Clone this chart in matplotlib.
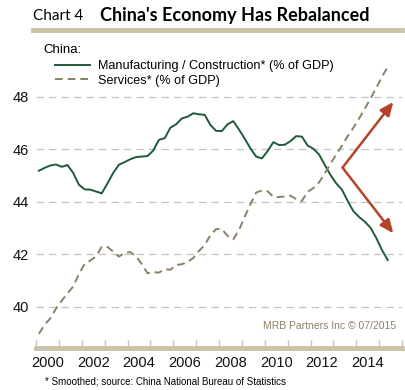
import numpy as np
import matplotlib
matplotlib.use('Agg')
import matplotlib.pyplot as plt

# quarterly, smoothed (% of GDP)
quarters = np.arange(2000.125, 2015.4, 0.25)
manufacturing = [45.18, 45.29, 45.38, 45.42, 45.33, 45.40, 45.10, 44.65,
                 44.47, 44.46, 44.39, 44.32, 44.70, 45.10, 45.41, 45.51,
                 45.62, 45.70, 45.72, 45.74, 45.95, 46.36, 46.42, 46.82,
                 46.95, 47.17, 47.24, 47.37, 47.33, 47.31, 46.92, 46.70,
                 46.69, 46.95, 47.07, 46.75, 46.40, 46.03, 45.72, 45.65,
                 45.93, 46.27, 46.16, 46.17, 46.31, 46.50, 46.48, 46.14,
                 46.02, 45.80, 45.40, 45.02, 44.70, 44.46, 44.03, 43.64,
                 43.42, 43.24, 43.01, 42.62, 42.16, 41.78]
services = [38.97, 39.31, 39.56, 39.93, 40.23, 40.51, 40.77, 41.25,
            41.63, 41.76, 41.92, 42.29, 42.28, 42.10, 41.91, 42.06,
            42.08, 41.92, 41.62, 41.28, 41.32, 41.30, 41.43, 41.41,
            41.59, 41.62, 41.70, 41.86, 42.13, 42.35, 42.73, 42.96,
            42.96, 42.70, 42.57, 42.92, 43.43, 43.91, 44.35, 44.43,
            44.40, 44.18, 44.18, 44.20, 44.23, 44.10, 44.03, 44.38,
            44.52, 44.74, 45.08, 45.45, 45.80, 46.13, 46.50, 46.82,
            47.17, 47.55, 47.93, 48.34, 48.75, 49.14]
year_labels = ['2000', '2002', '2004', '2006', '2008', '2010', '2012', '2014']
y_ticks = [40, 42, 44, 46, 48]

# arrow: start point and two end points (year, % of GDP)
arrow_start = (2013.4, 45.3)
arrow_ends = [(2015.62, 47.8), (2015.62, 42.8)]

green = '#1f5a3a'
tan = '#8c8068'
bar_tan = '#cbc2aa'
red = '#b5432a'

W, H = 406, 390
fig = plt.figure(figsize=(W / 100, H / 100), dpi=100)
ax = fig.add_axes([36 / W, 42 / H, 366 / W, 308 / H])

ax.plot(quarters, manufacturing, color=green, lw=1.4, label='Manufacturing / Construction* (% of GDP)')
ax.plot(quarters, services, color=tan, lw=1.4, ls=(0, (4, 2.5)), label='Services* (% of GDP)')

for end in arrow_ends:
    ax.annotate('', xy=end, xytext=arrow_start,
                arrowprops=dict(arrowstyle='-|>,head_length=0.8,head_width=0.35', color=red, lw=1.8,
                                shrinkA=0, shrinkB=0))

ax.set_xlim(2000, 2016)
ax.set_ylim(38.43, 50.16)
ax.set_yticks(y_ticks)
ax.yaxis.grid(True, color='#c4c4c4', ls=(0, (6, 4)), lw=0.9)
ax.set_axisbelow(True)

ax.set_xticks(np.arange(2000, 2017, 1))
ax.set_xticklabels([])
ax.set_xticks([int(y) + 0.5 for y in year_labels], minor=True)
ax.set_xticklabels(year_labels, minor=True)
ax.tick_params(axis='x', which='major', direction='in', length=6, width=1, color=bar_tan)
ax.tick_params(axis='x', which='minor', length=0, pad=6, labelsize=10.5, labelcolor='#111111')
ax.tick_params(axis='y', length=0, pad=5, labelsize=10.5, labelcolor='#111111')
for lab in ax.get_xticklabels(minor=True) + ax.get_yticklabels():
    lab.set_fontfamily('Liberation Sans')

for s in ['top', 'right', 'left']:
    ax.spines[s].set_visible(False)
ax.spines['bottom'].set_color(bar_tan)
ax.spines['bottom'].set_linewidth(3.5)

fig.text(43 / W, 1 - 50 / H, 'China:', fontsize=9.5, family='Liberation Sans', va='center', ha='left')
fig.legend(*ax.get_legend_handles_labels(), loc='upper left', bbox_to_anchor=(55 / W, 1 - 60 / H),
           frameon=False, prop={'family': 'Liberation Sans', 'size': 9.1}, handlelength=2.8,
           handletextpad=0.6, borderpad=0, borderaxespad=0, labelspacing=0.2)

ax.text(0.985, 0.055, 'MRB Partners Inc \u00a9 07/2015', transform=ax.transAxes, ha='right',
        va='bottom', fontsize=7.5, color=tan, family='Liberation Sans')

# title and bar
fig.text(33 / W, 1 - 16 / H, 'Chart 4', fontsize=11, family='Lato', va='center', ha='left')
fig.text(100 / W, 1 - 15 / H, "China's Economy Has Rebalanced", fontsize=13, family='Lato',
         weight='bold', va='center', ha='left')
fig.add_artist(plt.Line2D([33 / W, 402 / W], [1 - 30 / H, 1 - 30 / H], color=bar_tan, lw=3.5))

fig.text(45 / W, 1 - 381 / H, '* Smoothed; source: China National Bureau of Statistics',
         fontsize=7, family='Liberation Sans', va='center', ha='left')

fig.savefig('out.png', dpi=100)
